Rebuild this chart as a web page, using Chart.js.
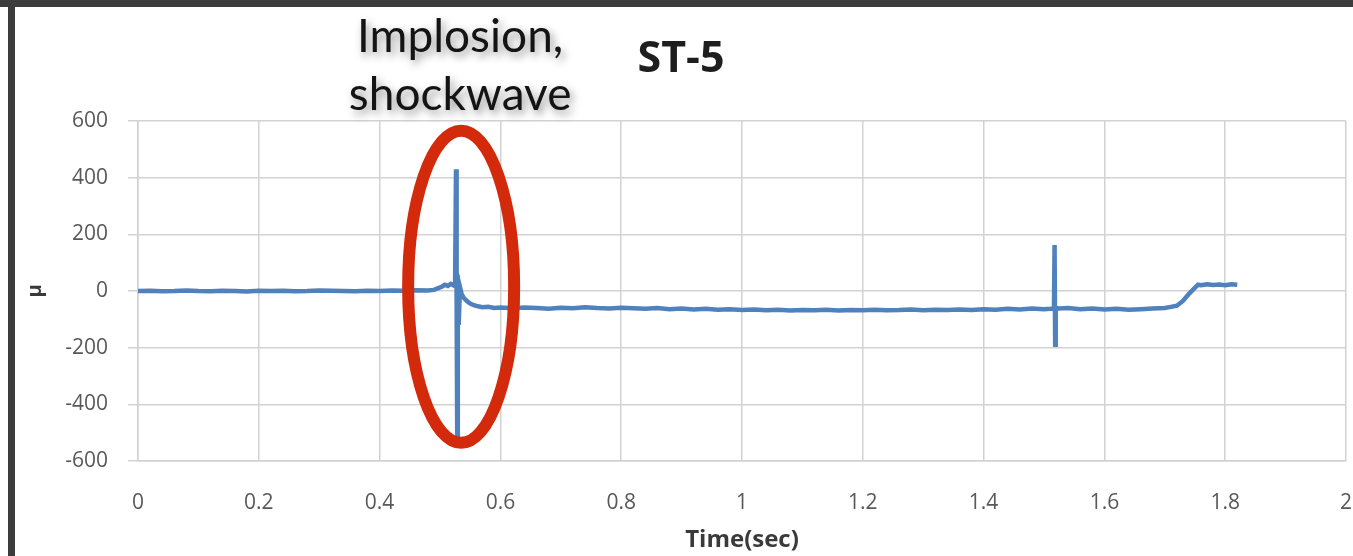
<!DOCTYPE html>
<html>
<head>
<meta charset="utf-8">
<title>ST-5</title>
<script src="https://cdn.jsdelivr.net/npm/chart.js@4/dist/chart.umd.min.js"></script>
<style>
  html, body { margin: 0; padding: 0; background: #ffffff; overflow: hidden; }
  #wrap { position: relative; width: 1353px; height: 556px; }
  #chart { position: absolute; left: 0; top: 0; }
  .bar { position: absolute; background: #3c3c3c; }
  #barTop { left: 0; top: 0; width: 1353px; height: 7px; }
  #barLeft { left: 8px; top: 7px; width: 7px; height: 549px; }
</style>
</head>
<body>
<div id="wrap">
  <canvas id="chart" width="1353" height="556"></canvas>
  <div class="bar" id="barTop"></div>
  <div class="bar" id="barLeft"></div>
</div>
<script>
// Strain gauge ST-5, time in seconds
const timeSec = [
  0, 0.02, 0.04, 0.06, 0.08, 0.10, 0.12, 0.14, 0.16, 0.18,
  0.20, 0.22, 0.24, 0.26, 0.28, 0.30, 0.32, 0.34, 0.36, 0.38,
  0.40, 0.42, 0.44, 0.46, 0.48,
  0.490, 0.497, 0.503, 0.508, 0.513, 0.518, 0.522, 0.525,
  0.5265, 0.5275, 0.5285, 0.5295, 0.531, 0.533, 0.536, 0.540,
  0.545, 0.550, 0.556, 0.563, 0.570, 0.580, 0.590, 0.60,
  0.62, 0.64, 0.66, 0.68, 0.70, 0.72, 0.74, 0.76, 0.78, 0.80,
  0.82, 0.84, 0.86, 0.88, 0.90, 0.92, 0.94, 0.96, 0.98, 1.00,
  1.02, 1.04, 1.06, 1.08, 1.10, 1.12, 1.14, 1.16, 1.18, 1.20,
  1.22, 1.24, 1.26, 1.28, 1.30, 1.32, 1.34, 1.36, 1.38, 1.40,
  1.42, 1.44, 1.46, 1.48, 1.50,
  1.510, 1.5165, 1.5175, 1.5185, 1.5195, 1.525,
  1.54, 1.56, 1.58, 1.60, 1.62, 1.64, 1.66, 1.68, 1.70,
  1.71, 1.72, 1.73, 1.74, 1.75, 1.755, 1.76, 1.77, 1.78,
  1.79, 1.80, 1.81, 1.82
];
const strainMicro = [
  0, 1, -1, 0, 2, 0, -1, 1, 0, -2,
  1, 0, 1, -1, 0, 2, 1, 0, -1, 1,
  0, 2, 1, 3, 2,
  4, 10, 15, 22, 18, 25, 20, 30,
  430, -30, -510, 55, -120, 15, -12, -26,
  -36, -44, -50, -54, -57, -56, -60, -58,
  -61, -58, -60, -63, -59, -61, -57, -60, -62, -59,
  -61, -63, -60, -64, -62, -65, -63, -66, -64, -67,
  -65, -68, -66, -69, -67, -68, -66, -69, -67, -68,
  -66, -68, -67, -65, -68, -66, -67, -65, -67, -64,
  -66, -63, -65, -62, -64,
  -63, -62, 162, -190, -60, -62,
  -60, -64, -62, -65, -63, -66, -64, -62, -60,
  -56, -52, -35, -10, 12, 22, 20, 24, 21,
  23, 20, 24, 22
];

const xTickLabels = ['0', '0.2', '0.4', '0.6', '0.8', '1', '1.2', '1.4', '1.6', '1.8', '2'];
const yTickLabels = ['-600', '-400', '-200', '0', '200', '400', '600'];

const chartTitle = 'ST-5';
const calloutLines = ['Implosion,', 'shockwave'];
const implosionTime = 0.535;   // centre of the highlighted event
const implosionLevel = 15;

const points = timeSec.map((t, i) => ({ x: t, y: strainMicro[i] }));

const GRID = '#d2d2d2';
const TICK_FONT = { family: '"Open Sans", "Liberation Sans", sans-serif', size: 21 };

// Title, callout text and ellipse marking the implosion
const calloutPlugin = {
  id: 'callout',
  afterDatasetsDraw(chart) {
    const { ctx, scales: { x, y } } = chart;
    const cx = x.getPixelForValue(implosionTime);
    const cy = y.getPixelForValue(implosionLevel);
    ctx.save();
    ctx.strokeStyle = '#d42a0c';
    ctx.lineWidth = 12;
    ctx.beginPath();
    ctx.ellipse(cx, cy, 53, 156, 0, 0, Math.PI * 2);
    ctx.stroke();
    ctx.restore();
  },
  afterDraw(chart) {
    const { ctx, scales: { x } } = chart;
    ctx.save();
    // chart title
    ctx.fillStyle = '#1e1e1e';
    ctx.font = 'bold 43px "Open Sans", "Liberation Sans", sans-serif';
    ctx.textAlign = 'center';
    ctx.textBaseline = 'alphabetic';
    ctx.fillText(chartTitle, 681, 72);
    // callout text with soft shadow
    const tx = x.getPixelForValue(implosionTime) - 1;
    ctx.font = '46px Lato, "Open Sans", sans-serif';
    ctx.fillStyle = '#141414';
    ctx.shadowColor = 'rgba(0,0,0,0.45)';
    ctx.shadowBlur = 8;
    ctx.shadowOffsetX = 3;
    ctx.shadowOffsetY = 4;
    ctx.fillText(calloutLines[0], tx, 52);
    ctx.fillText(calloutLines[1], tx, 110);
    ctx.restore();
  }
};

new Chart(document.getElementById('chart'), {
  type: 'scatter',
  data: {
    datasets: [{
      data: points,
      showLine: true,
      borderColor: '#4f81bd',
      borderWidth: 4.5,
      pointRadius: 0,
      tension: 0,
      fill: false
    }]
  },
  options: {
    responsive: false,
    animation: false,
    devicePixelRatio: 1,
    layout: { padding: { left: 0, right: 7, top: 121, bottom: 0 } },
    plugins: {
      legend: { display: false },
      tooltip: { enabled: false },
      title: { display: false }
    },
    scales: {
      x: {
        type: 'linear',
        min: 0,
        max: 2,
        ticks: {
          stepSize: 0.2,
          padding: 0,
          color: '#595959',
          font: TICK_FONT,
          maxRotation: 0,
          callback: (v, i) => xTickLabels[i]
        },
        grid: { color: GRID, lineWidth: 1.5, drawTicks: true, tickLength: 29, tickColor: 'rgba(0,0,0,0)' },
        border: { color: GRID, width: 1.5 },
        title: {
          display: true,
          text: 'Time(sec)',
          color: '#3a3a3a',
          font: { family: '"Open Sans", "Liberation Sans", sans-serif', size: 24, weight: 'bold' },
          padding: { top: 0, bottom: 1 }
        },
        afterFit(s) { s.height = 95; }
      },
      y: {
        type: 'linear',
        min: -600,
        max: 600,
        ticks: {
          stepSize: 200,
          padding: 20,
          color: '#595959',
          font: TICK_FONT,
          callback: (v, i) => yTickLabels[i]
        },
        grid: { color: GRID, lineWidth: 1.5, tickLength: 10 },
        border: { color: GRID, width: 1.5 },
        title: {
          display: true,
          text: 'μ',
          color: '#3a3a3a',
          font: { family: '"Open Sans", "Liberation Sans", sans-serif', size: 20, weight: 'bold' },
          padding: { top: 23, bottom: 0 }
        },
        afterFit(s) { s.width = 138; }
      }
    }
  },
  plugins: [calloutPlugin]
});
</script>
</body>
</html>
